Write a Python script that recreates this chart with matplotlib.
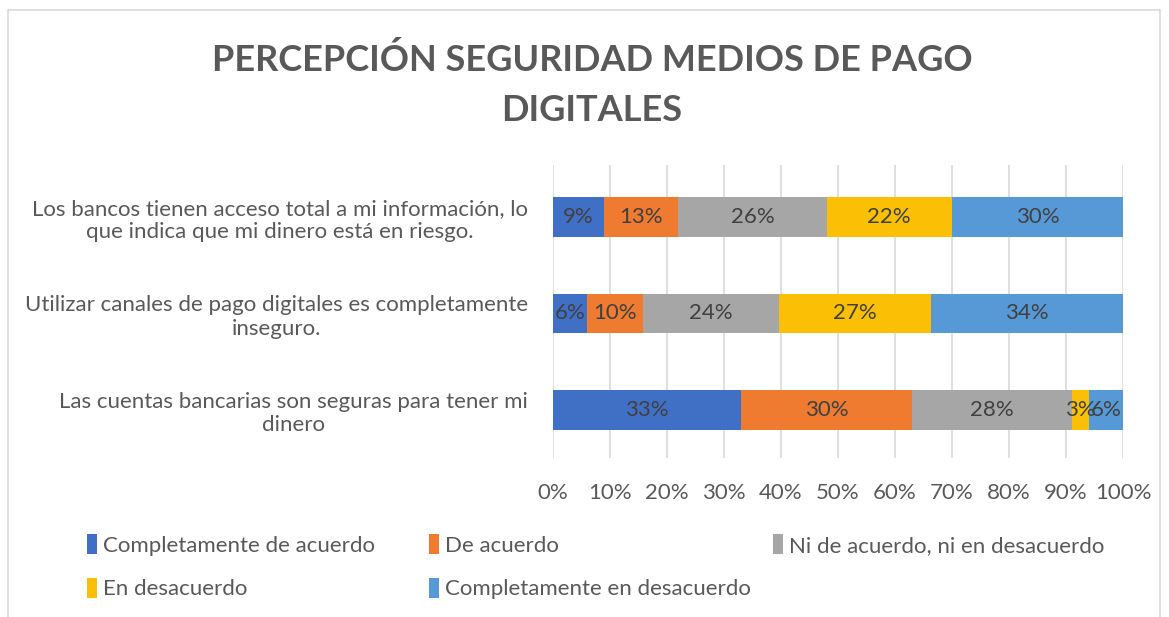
import numpy as np
import matplotlib
matplotlib.use("Agg")
import matplotlib.pyplot as plt
from matplotlib.patches import Rectangle, Patch

plt.rcParams['font.family'] = ['Lato', 'DejaVu Sans']

# data (bottom row first, as drawn on the y axis)
categories = [
    "Las cuentas bancarias son seguras para tener mi\ndinero",
    "Utilizar canales de pago digitales es completamente\ninseguro.",
    "Los bancos tienen acceso total a mi información, lo\nque indica que mi dinero está en riesgo.",
]
series = ["Completamente de acuerdo", "De acuerdo",
          "Ni de acuerdo, ni en desacuerdo", "En desacuerdo",
          "Completamente en desacuerdo"]
completamente_de_acuerdo = [33, 6, 9]
de_acuerdo = [30, 10, 13]
ni_ni = [28, 24, 26]
en_desacuerdo = [3, 27, 22]
completamente_en_desacuerdo = [6, 34, 30]
xticks = np.arange(0, 1.01, 0.1)

colors = ["#4070c6", "#ee7b30", "#a6a6a6", "#fbbf06", "#5799d6"]
txt = "#595959"

values = np.array([completamente_de_acuerdo, de_acuerdo, ni_ni,
                   en_desacuerdo, completamente_en_desacuerdo], dtype=float)
shares = values / values.sum(axis=0)

fig = plt.figure(figsize=(11.69, 6.17), dpi=100)
fig.patches.append(Rectangle((8 / 1169, -0.01), 1152 / 1169, 1 - 10 / 617 + 0.01,
                             transform=fig.transFigure, fill=False,
                             edgecolor="#d9d9d9", linewidth=1.2))

ax = fig.add_axes([553 / 1169, 1 - 458 / 617, 570 / 1169, 293 / 617])
y = np.arange(len(categories))
left = np.zeros(len(categories))
for i, name in enumerate(series):
    bars = ax.barh(y, shares[i], left=left, height=0.41, color=colors[i],
                   label=name, zorder=3)
    for j, b in enumerate(bars):
        ax.text(left[j] + shares[i][j] / 2, y[j], f"{values[i][j]:.0f}%",
                ha="center", va="center", fontsize=16, color="#404040", zorder=4)
    left += shares[i]

ax.set_xlim(0, 1)
ax.set_ylim(-0.5, 2.54)
ax.set_xticks(xticks)
ax.set_xticklabels([f"{t * 100:.0f}%" for t in xticks])
ax.set_yticks(y)
ax.set_yticklabels(categories, multialignment="center", linespacing=1.2)
ax.tick_params(axis="x", length=0, labelsize=16, labelcolor=txt, pad=18)
ax.tick_params(axis="y", length=0, labelsize=16, labelcolor=txt, pad=18)
ax.grid(axis="x", color="#d9d9d9", linewidth=1.2, zorder=0)
for s in ax.spines.values():
    s.set_visible(False)

fig.text(592 / 1169, 1 - 85 / 617, "PERCEPCIÓN SEGURIDAD MEDIOS DE PAGO\nDIGITALES",
         ha="center", va="center", fontsize=26, fontweight="bold", color=txt,
         linespacing=1.65)

# legend, three columns like the Excel layout
handles = [Patch(facecolor=c) for c in colors]
cols = [([0, 3], 76), ([1, 4], 418), ([2], 762)]
for idx, xpix in cols:
    fig.legend([handles[k] for k in idx], [series[k] for k in idx],
               loc="upper left", bbox_to_anchor=(xpix / 1169, 1 - 523 / 617),
               frameon=False, fontsize=16, labelcolor=txt,
               handlelength=0.45, handleheight=1.0, handletextpad=0.25,
               labelspacing=1.0, borderpad=0)

fig.savefig("out.png", dpi=100)
